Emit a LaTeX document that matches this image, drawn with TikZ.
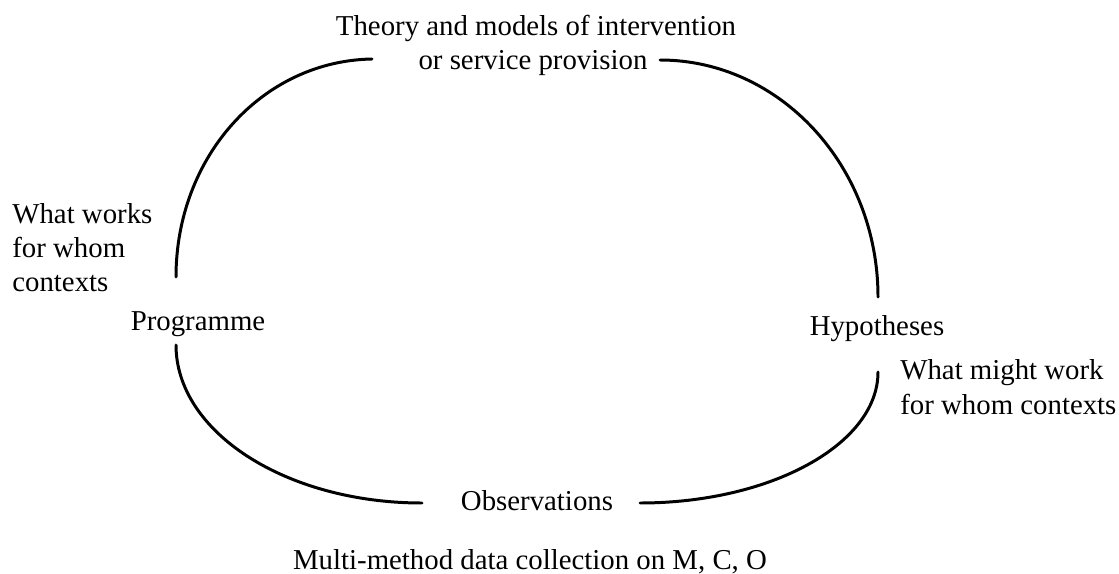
\documentclass[tikz,border=0pt]{standalone}
\usepackage{fontspec}
\setmainfont{Liberation Serif}
\begin{document}
\begin{tikzpicture}[x=0.02cm, y=-0.02cm, font=\fontsize{16.4}{19.6}\selectfont, line join=round, line cap=round,
	loop/.style={line width=1.7pt}, lbl/.style={inner sep=0pt, anchor=base}, side/.style={inner sep=0pt, align=left, anchor=base west}]
	\useasboundingbox (0,0) rectangle (1119,574);
	\node[lbl] (theory) at (536,36) {Theory and models of intervention};
	\node[lbl] (service) at (533,70) {or service provision};
	\node[side] (works) at (12,292) {What works\\for whom\\contexts};
	\node[lbl] (prog) at (198,330) {Programme};
	\node[lbl] (hyp) at (877,336) {Hypotheses};
	\node[side] (might) at (900,414) {What might work\\for whom contexts};
	\node[lbl] (obs) at (537,510) {Observations};
	\node[lbl] (multi) at (530,569) {Multi-method data collection on M, C, O};
	% ends of the four arcs
	\coordinate (tl) at (176,277); \coordinate (tt) at (372,59);
	\coordinate (tr) at (660,60);  \coordinate (rt) at (878,297);
	\coordinate (bl) at (176,345); \coordinate (lb) at (422,503);
	\coordinate (br) at (640,503); \coordinate (rb) at (878,372);
	\draw[loop] (tl) .. controls (176,157) and (262,61) .. (tt);
	\draw[loop] (tr) .. controls (780,60) and (878,166) .. (rt);
	\draw[loop] (bl) .. controls (176,432) and (286,503) .. (lb);
	\draw[loop] (br) .. controls (771,503) and (878,444) .. (rb);
\end{tikzpicture}
\end{document}
